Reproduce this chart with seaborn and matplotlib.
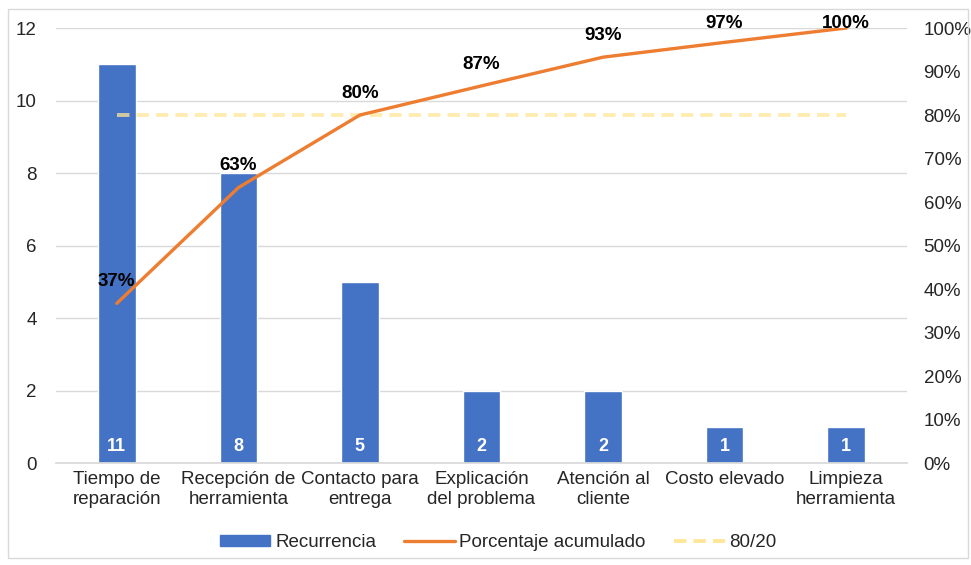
import matplotlib
matplotlib.use("Agg")
import matplotlib.pyplot as plt
from matplotlib.patches import Rectangle, Patch
from matplotlib.lines import Line2D
import numpy as np
import pandas as pd
import seaborn as sns

categories = ["Tiempo de\nreparación", "Recepción de\nherramienta", "Contacto para\nentrega",
              "Explicación\ndel problema", "Atención al\ncliente", "Costo elevado",
              "Limpieza\nherramienta"]
recurrencia = [11, 8, 5, 2, 2, 1, 1]
acumulado = [36.7, 63.3, 80.0, 86.7, 93.3, 96.7, 100.0]
acumulado_labels = ["37%", "63%", "80%", "87%", "93%", "97%", "100%"]
umbral = [80, 80, 80, 80, 80, 80, 80]

sns.set_theme(style="white")
plt.rcParams["font.family"] = ["Liberation Sans", "DejaVu Sans"]

BLUE = "#4472C4"
ORANGE = "#ED7D31"
YELLOW = "#FFE699"
GRID = "#D9D9D9"
TXT = "#262626"
FS = 13.5

df = pd.DataFrame({"cat": categories, "rec": recurrencia, "acu": acumulado, "umb": umbral,
                   "pos": np.arange(len(categories))})

fig = plt.figure(figsize=(9.71, 5.65), dpi=100)
ax = fig.add_axes([0.0577, 0.1805, 0.8763, 0.7699])

sns.barplot(data=df, x="cat", y="rec", color=BLUE, width=0.31, saturation=1, ax=ax)
ax.set_ylim(0, 12)
ax.set_xlim(-0.5, 6.5)
ax.set_yticks(range(0, 13, 2))
ax.yaxis.grid(True, color=GRID, linewidth=1)
ax.set_axisbelow(True)
for s in ["top", "right", "left"]:
    ax.spines[s].set_visible(False)
ax.spines["bottom"].set_color(GRID)
ax.tick_params(axis="both", length=0, labelsize=FS, colors=TXT)
ax.tick_params(axis="y", pad=14)
ax.tick_params(axis="x", pad=6)
ax.set_xlabel("")
ax.set_ylabel("")

for i, v in enumerate(recurrencia):
    ax.text(i, 0.45, str(v), ha="center", va="center", color="white",
            fontsize=13, fontweight="bold")

ax2 = ax.twinx()
sns.lineplot(data=df, x="pos", y="umb", ax=ax2, color=YELLOW, linewidth=2.8,
             linestyle=(0, (3.2, 1.8)), alpha=0.75)
sns.lineplot(data=df, x="pos", y="acu", ax=ax2, color=ORANGE, linewidth=2.4)
ax2.set_ylim(0, 100)
ax2.set_xlim(-0.5, 6.5)
ax2.set_yticks(range(0, 101, 10))
ax2.set_yticklabels([f"{t}%" for t in range(0, 101, 10)])
ax2.tick_params(axis="y", length=0, labelsize=FS, colors=TXT, pad=12)
ax2.set_ylabel("")
for s in ["top", "right", "left", "bottom"]:
    ax2.spines[s].set_visible(False)

# labels sit above each point, kept inside the plotting area at the top
for i, (v, lab) in enumerate(zip(acumulado, acumulado_labels)):
    ax2.text(i, min(v + 5.0, 101.0), lab, ha="center", va="center", color="black",
             fontsize=13.5, fontweight="bold")

handles = [
    Patch(facecolor=BLUE, edgecolor=BLUE),
    Line2D([0], [0], color=ORANGE, linewidth=2.4),
    Line2D([0], [0], color=YELLOW, linewidth=2.8, linestyle=(0, (3.2, 1.8))),
]
labels = ["Recurrencia", "Porcentaje acumulado", "80/20"]
fig.legend(handles, labels, loc="center", bbox_to_anchor=(0.513, 0.039), ncol=3,
           frameon=False, fontsize=FS, handlelength=2.7, handleheight=0.5,
           columnspacing=1.5, handletextpad=0.25, labelcolor=TXT)

fig.patches.append(Rectangle((8 / 971, 7 / 565), 960 / 971, 549 / 565, transform=fig.transFigure,
                             fill=False, edgecolor=GRID, linewidth=1))

fig.savefig("out.png", dpi=100)
